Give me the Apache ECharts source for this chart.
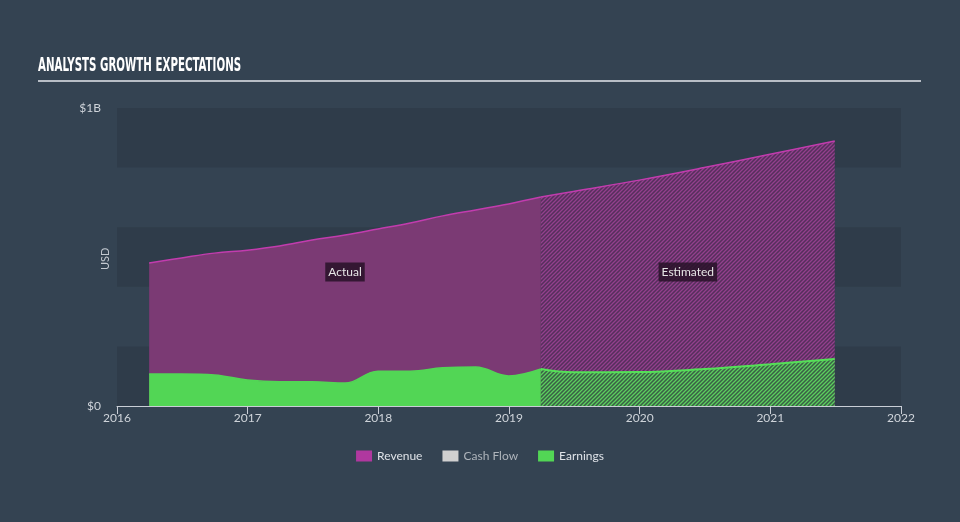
<!DOCTYPE html>
<html><head><meta charset="utf-8">
<script src="https://cdn.jsdelivr.net/npm/echarts@6/dist/echarts.min.js"></script>
<style>html,body{margin:0;padding:0;background:#344352;}#c{width:960px;height:522px;}</style>
</head><body><div id="c"></div>
<script>
// ---- data ----
const actualDates = ['2016-03-31','2016-06-30','2016-09-30','2016-12-31','2017-03-31','2017-06-30','2017-09-30','2017-12-31','2018-03-31','2018-06-30','2018-09-30','2018-12-31','2019-03-31'];
const revenueActual = [0.480,0.497,0.513,0.523,0.537,0.557,0.574,0.594,0.614,0.638,0.658,0.678,0.701];
const earningsActual = [0.107,0.107,0.104,0.087,0.081,0.081,0.077,0.117,0.117,0.128,0.131,0.101,0.124];
const estimateDates = ['2019-03-31','2019-06-30','2019-12-31','2020-06-30','2020-12-31','2021-06-30'];
const revenueEstimate = [0.701,0.720,0.758,0.800,0.845,0.889];
const earningsEstimate = [0.124,0.113,0.114,0.124,0.140,0.158];
const cashFlow = [];
const yearTicks = [2016,2017,2018,2019,2020,2021,2022];
const unit = 1e9;

function toYear(s){
  const d = new Date(s + 'T00:00:00Z');
  const y = d.getUTCFullYear();
  const start = Date.UTC(y,0,1), end = Date.UTC(y+1,0,1);
  return y + (d.getTime()-start)/(end-start);
}
function pairs(dates, vals){ return dates.map((d,i)=>[toYear(d), vals[i]*unit]); }

function hatch(bg, fg){
  const c = document.createElement('canvas');
  c.width = 4; c.height = 4;
  const g = c.getContext('2d');
  g.fillStyle = bg; g.fillRect(0,0,4,4);
  g.strokeStyle = fg; g.lineWidth = 1.3;
  g.beginPath();
  g.moveTo(0,4); g.lineTo(4,0);
  g.moveTo(-1,1); g.lineTo(1,-1);
  g.moveTo(3,5); g.lineTo(5,3);
  g.stroke();
  return c;
}

const actualMid = (toYear(actualDates[0]) + toYear(actualDates[actualDates.length-1]))/2;
const estMid = (toYear(estimateDates[0]) + toYear(estimateDates[estimateDates.length-1]))/2;

const chart = echarts.init(document.getElementById('c'));
const labelBox = {color:'#e6e6e6', fontSize:12, fontFamily:'Lato, sans-serif', backgroundColor:'rgba(40,18,40,0.85)', padding:[4,3,3,3]};
chart.setOption({
  backgroundColor:'#344352',
  animation:false,
  grid:{left:117, right:59, top:108, bottom:116},
  graphic:[
    {type:'text', x:38, y:57, scaleX:0.6, style:{text:'ANALYSTS GROWTH EXPECTATIONS', fill:'#ffffff', font:'bold 19px "DejaVu Sans Condensed", "DejaVu Sans", sans-serif'}},
    {type:'rect', shape:{x:38, y:80, width:883, height:2}, style:{fill:'#b8bec6'}},
    {type:'text', x:100, y:270, rotation:Math.PI/2, style:{text:'USD', fill:'#c3c9d0', font:'11px Lato, sans-serif'}}
  ],
  legend:{
    bottom:55, left:'center', itemWidth:16, itemHeight:11, itemGap:20,
    textStyle:{color:'#dfe3e8', fontSize:12, fontFamily:'Lato, sans-serif'},
    data:[{name:'Revenue', icon:'rect'},{name:'Cash Flow', icon:'rect', textStyle:{color:'#aeb4bb'}},{name:'Earnings', icon:'rect'}]
  },
  xAxis:{
    type:'value', min:yearTicks[0], max:yearTicks[yearTicks.length-1], interval:1,
    axisLine:{lineStyle:{color:'#c9ced6', width:1}},
    axisTick:{show:true, length:8, lineStyle:{color:'#c9ced6'}},
    axisLabel:{color:'#cfd4da', fontSize:12, margin:6, fontFamily:'Lato, sans-serif', formatter:v=>String(v)},
    splitLine:{show:false}
  },
  yAxis:{
    type:'value', min:0, max:unit, interval:0.2*unit,
    axisLine:{show:false}, axisTick:{show:false},
    axisLabel:{color:'#cfd4da', fontSize:12, margin:16, fontFamily:'Lato, sans-serif',
      formatter:v=> v===0?'$0':(v===unit?'$1B':'')},
    splitLine:{show:false},
    splitArea:{show:true, areaStyle:{color:['#2f3c4a','rgba(0,0,0,0)']}}
  },
  series:[
    {name:'Revenue', type:'line', data:pairs(actualDates, revenueActual), smooth:0.4, showSymbol:false,
     itemStyle:{color:'#b0389f'}, lineStyle:{color:'#c23cae', width:1.5},
     areaStyle:{color:'#7b3a74', opacity:1},
     markPoint:{symbol:'rect', symbolSize:0, silent:true,
       data:[{coord:[actualMid, 0.45*unit], label:Object.assign({show:true, formatter:'Actual', position:'inside'}, labelBox)}]}
    },
    {name:'Revenue', type:'line', data:pairs(estimateDates, revenueEstimate), smooth:0.4, showSymbol:false,
     itemStyle:{color:'#b0389f'}, lineStyle:{color:'#c23cae', width:1.5},
     areaStyle:{color:{image:hatch('#552f5c','#93408d'), repeat:'repeat'}, opacity:1},
     markPoint:{symbol:'rect', symbolSize:0, silent:true,
       data:[{coord:[estMid, 0.45*unit], label:Object.assign({show:true, formatter:'Estimated', position:'inside'}, labelBox)}]}
    },
    {name:'Cash Flow', type:'line', data:cashFlow, itemStyle:{color:'#d0d0d0'}},
    {name:'Earnings', type:'line', data:pairs(actualDates, earningsActual), smooth:0.4, showSymbol:false,
     itemStyle:{color:'#52d655'}, lineStyle:{color:'#52d655', width:1.5},
     areaStyle:{color:'#52d655', opacity:1}},
    {name:'Earnings', type:'line', data:pairs(estimateDates, earningsEstimate), smooth:0.4, showSymbol:false,
     itemStyle:{color:'#52d655'}, lineStyle:{color:'#55e058', width:2},
     areaStyle:{color:{image:hatch('#3a5f46','#5ccf5e'), repeat:'repeat'}, opacity:1}}
  ]
});
</script></body></html>
